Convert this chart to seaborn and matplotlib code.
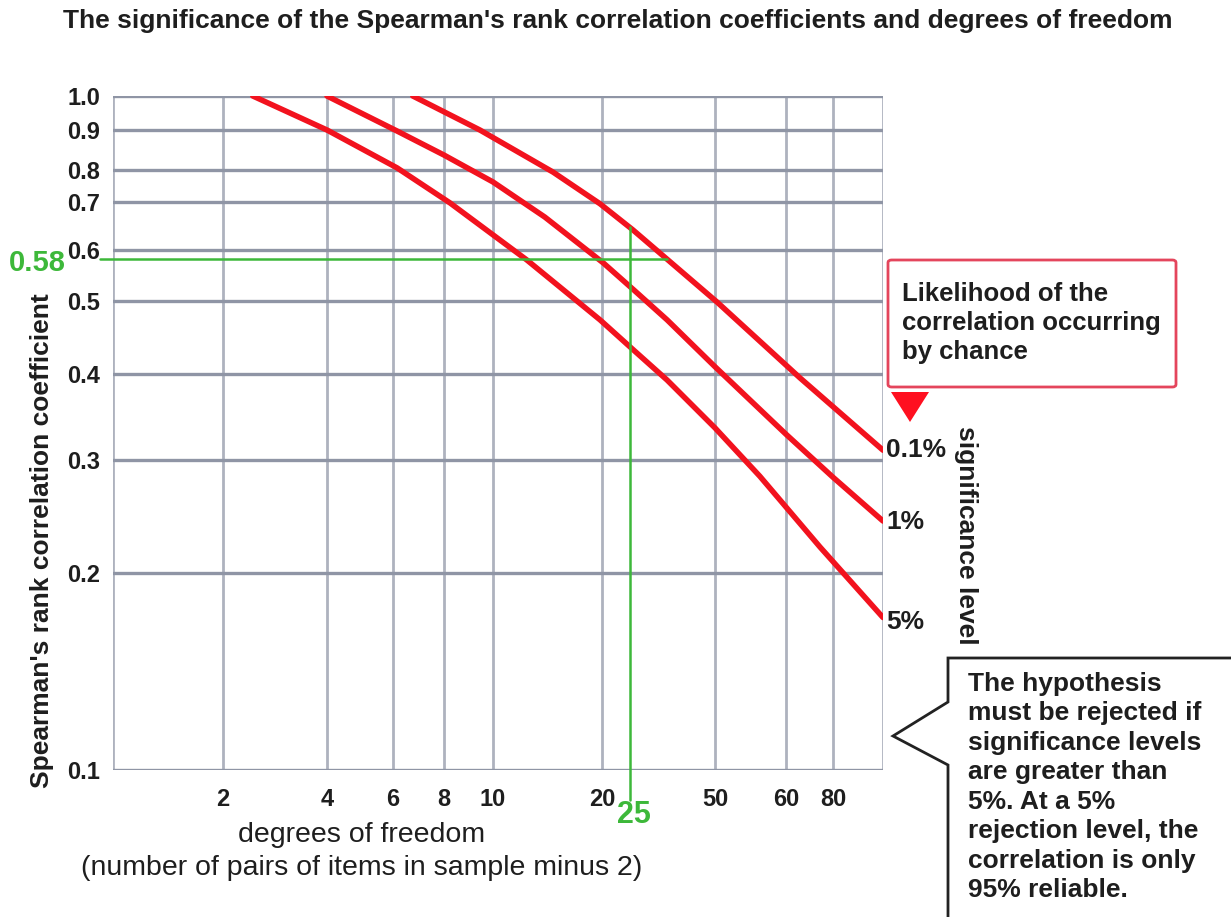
import numpy as np
import pandas as pd
import matplotlib
matplotlib.use('Agg')
import matplotlib.pyplot as plt
import seaborn as sns
from matplotlib.patches import Polygon, FancyBboxPatch

# critical values (degrees of freedom, Spearman's rho)
df_5 = [2.44, 4.0, 6.14, 8.22, 12.4, 19.75, 25.9, 33.9, 50, 56.1, 73.9, 100]
rho_5 = [1.0, 0.9, 0.805, 0.698, 0.579, 0.472, 0.43, 0.392, 0.334, 0.283, 0.2195, 0.171]
df_1 = [4.0, 6.07, 8, 10, 13.9, 20.2, 25.9, 33.9, 50, 60, 80, 100]
rho_1 = [1.0, 0.9, 0.836, 0.761, 0.667, 0.573, 0.520, 0.472, 0.409, 0.327, 0.282, 0.241]
df_01 = [6.71, 9.42, 14.65, 19.75, 25.7, 50.3, 65.3, 100]
rho_01 = [1.0, 0.9, 0.793, 0.696, 0.640, 0.498, 0.395, 0.310]
levels = ['5%', '1%', '0.1%']

x_ticks = [2, 4, 6, 8, 10, 20, 50, 60, 80]
y_ticks = [0.1, 0.2, 0.3, 0.4, 0.5, 0.6, 0.7, 0.8, 0.9, 1.0]
y_ticklabels = ['0.1', '0.2', '0.3', '0.4', '0.5', '0.6', '0.7', '0.8', '0.9', '1.0']
x_example, rho_example = 25, 0.58

# the printed axes are not clean log scales, so pin each grid value to where it sits
X_GRID = [1, 2, 4, 6, 8, 10, 20, 50, 60, 80, 100]
X_GRID_POS = [113, 223, 327, 393, 444, 493, 602, 715, 786, 833, 883]
Y_GRID_POS = [770, 573, 460, 374, 301, 250, 202, 170, 130, 96]


def _xf(x):
    x = np.clip(np.asarray(x, dtype=float), 1e-3, None)
    return np.interp(np.log10(x), np.log10(X_GRID), X_GRID_POS)


def _xi(p):
    return 10 ** np.interp(np.asarray(p, dtype=float), X_GRID_POS, np.log10(X_GRID))


def _yf(y):
    y = np.clip(np.asarray(y, dtype=float), 1e-3, None)
    return np.interp(np.log10(y), np.log10(y_ticks), -np.array(Y_GRID_POS, float))


def _yi(p):
    return 10 ** np.interp(np.asarray(p, dtype=float),
                           -np.array(Y_GRID_POS, float), np.log10(y_ticks))


W, H = 1231, 917


def fx(px):
    return px / W


def fy(py):
    return 1 - py / H


curves = pd.concat([
    pd.DataFrame({'df': df_5, 'rho': rho_5, 'level': levels[0]}),
    pd.DataFrame({'df': df_1, 'rho': rho_1, 'level': levels[1]}),
    pd.DataFrame({'df': df_01, 'rho': rho_01, 'level': levels[2]}),
])

sns.set_style('white')
plt.rcParams['font.family'] = ['Liberation Sans', 'DejaVu Sans']

RED = '#f2121e'
GREEN = '#3db83a'
GRID_H = '#8f95a5'
GRID_V = '#aeb2be'
TXT = '#1e1e1e'

fig = plt.figure(figsize=(W / 100, H / 100), dpi=100)
ax = fig.add_axes([fx(113), fy(770), fx(883) - fx(113), fy(96) - fy(770)])
ax.set_xscale('function', functions=(_xf, _xi))
ax.set_yscale('function', functions=(_yf, _yi))
ax.set_xlim(1, 100)
ax.set_ylim(0.1, 1.0)

sns.lineplot(data=curves, x='df', y='rho', hue='level', units='level',
             estimator=None, sort=False, palette=[RED, RED, RED],
             linewidth=4, legend=False, ax=ax, zorder=3)

# grid
for v in X_GRID:
    ax.axvline(v, color=GRID_V, lw=2, zorder=1)
for v in y_ticks:
    ax.axhline(v, color=GRID_H, lw=2.4, zorder=1)
for s in ax.spines.values():
    s.set_visible(False)

ax.set_xticks(x_ticks)
ax.set_xticklabels([str(t) for t in x_ticks])
ax.set_xticks([], minor=True)
ax.set_yticks(y_ticks)
ax.set_yticklabels(y_ticklabels)
ax.set_yticks([], minor=True)
ax.tick_params(axis='x', length=5, width=2, color=GRID_V, pad=8,
               labelsize=17, labelcolor=TXT)
ax.tick_params(axis='y', length=5, width=2, color=GRID_H, pad=4,
               labelsize=17, labelcolor=TXT)
for lab in ax.get_xticklabels() + ax.get_yticklabels():
    lab.set_fontweight('bold')
ax.set_xlabel('')
ax.set_ylabel('')

# green worked example: read across to the 0.1% curve and up from 25
fig.canvas.draw()
pts = ax.transData.transform(np.column_stack([df_01, rho_01]))
y_disp = ax.transData.transform((1, rho_example))[1]
x_disp = ax.transData.transform((x_example, 1))[0]
x_hit = np.interp(y_disp, pts[::-1, 1], pts[::-1, 0])
y_hit = np.interp(x_disp, pts[:, 0], pts[:, 1])
to_ax = ax.transAxes.inverted()
x_end = to_ax.transform((x_hit, y_disp))[0]
y_top = to_ax.transform((x_disp, y_hit))[1]
ax.plot([-0.017, x_end], [rho_example, rho_example], color=GREEN, lw=1.8,
        transform=ax.get_yaxis_transform(), clip_on=False, zorder=4)
ax.plot([x_example, x_example], [-0.045, y_top], color=GREEN, lw=1.8,
        transform=ax.get_xaxis_transform(), clip_on=False, zorder=4)
fig.text(fx(37), fy(263), '0.58', color=GREEN, fontsize=21, fontweight='bold',
         ha='center', va='center')
fig.text(fx(634), fy(815), str(x_example), color=GREEN, fontsize=22,
         fontweight='bold', ha='center', va='center')

# titles and labels
fig.text(fx(618), fy(21), "The significance of the Spearman's rank correlation "
         "coefficients and degrees of freedom", fontsize=19, color=TXT,
         ha='center', va='center', fontweight='bold')
fig.text(fx(42), fy(541), "Spearman's rank correlation coefficient", rotation=90,
         fontsize=19, fontweight='bold', color=TXT, ha='center', va='center')
fig.text(fx(362), fy(835), 'degrees of freedom', fontsize=20.5, color=TXT,
         ha='center', va='center')
fig.text(fx(362), fy(868), '(number of pairs of items in sample minus 2)',
         fontsize=20.5, color=TXT, ha='center', va='center')

# significance level labels at curve ends
for lab, py in [('0.1%', 450), ('1%', 522), ('5%', 622)]:
    fig.text(fx(886), fy(py), lab, fontsize=19, fontweight='bold', color=TXT,
             ha='left', va='center')
fig.text(fx(966), fy(535), 'significance level', rotation=-90, fontsize=19,
         fontweight='bold', color=TXT, ha='center', va='center')

# red box with arrow
box = FancyBboxPatch((fx(888), fy(387)), fx(1176) - fx(888), fy(260) - fy(387),
                     boxstyle='round,pad=0,rounding_size=0.003',
                     transform=fig.transFigure, facecolor='white',
                     edgecolor='#e4455c', lw=2)
fig.patches.append(box)
fig.text(fx(902), fy(323), 'Likelihood of the\ncorrelation occurring\nby chance',
         fontsize=18.5, fontweight='bold', color=TXT, ha='left', va='center',
         linespacing=1.28)
tri = Polygon([(fx(891), fy(392)), (fx(929), fy(392)), (fx(910), fy(422))],
              closed=True, transform=fig.transFigure, facecolor='#ff1020',
              edgecolor='none')
fig.patches.append(tri)

# callout
call = Polygon([(fx(948), fy(930)), (fx(948), fy(765)), (fx(893), fy(736)),
                (fx(948), fy(702)), (fx(948), fy(658)), (fx(1240), fy(658)),
                (fx(1240), fy(930))], closed=True, transform=fig.transFigure,
               facecolor='white', edgecolor='#222222', lw=2)
fig.patches.append(call)
fig.text(fx(968), fy(787), 'The hypothesis\nmust be rejected if\nsignificance levels\n'
         'are greater than\n5%. At a 5%\nrejection level, the\ncorrelation is only\n'
         '95% reliable.', fontsize=19, fontweight='bold', color=TXT,
         ha='left', va='center', linespacing=1.29)

fig.savefig('out.png', dpi=100)
